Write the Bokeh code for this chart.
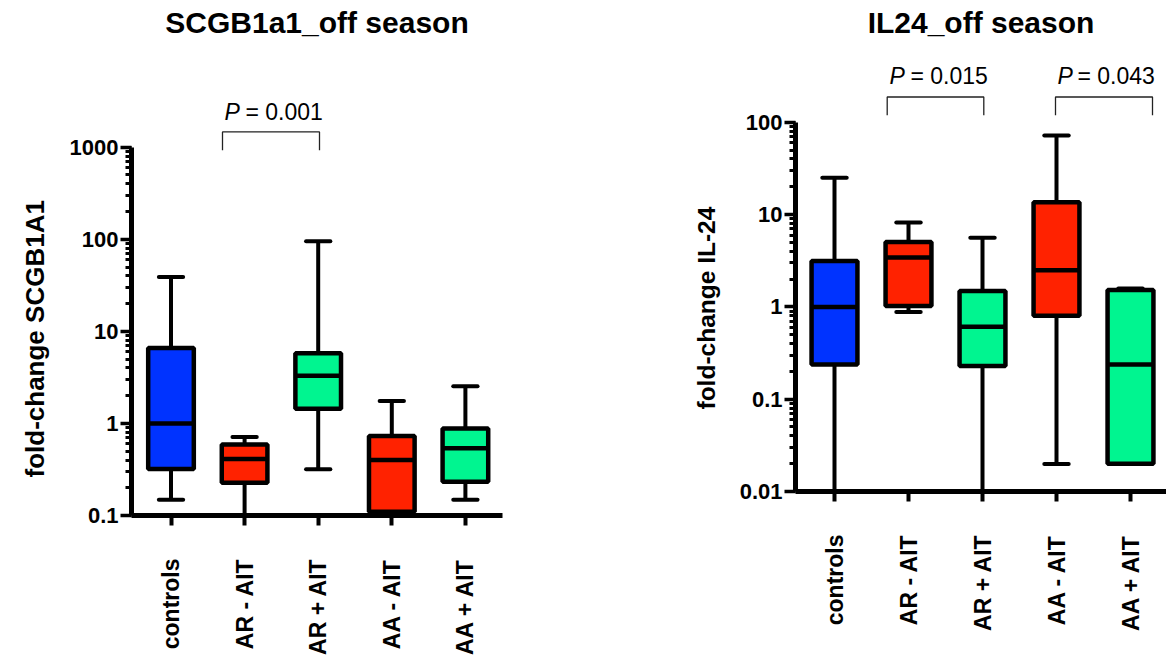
import math
import numpy as np
from bokeh.plotting import figure
from bokeh.models import Range1d, FixedTicker, LogTicker, CustomJSTickFormatter, Title
from bokeh.layouts import row
from bokeh.core.properties import value
from bokeh.embed import file_html
from bokeh.resources import INLINE

# ---------------- data ----------------
categories = ["controls", "AR - AIT", "AR + AIT", "AA - AIT", "AA + AIT"]
box_colors = ["#0033FF", "#FF2200", "#00F590", "#FF2200", "#00F590"]

# SCGB1a1 off season (fold-change SCGB1A1)
scg_min = [0.148, 0.05, 0.317, 0.05, 0.148]
scg_q1 = [0.32, 0.227, 1.44, 0.11, 0.233]
scg_med = [1.0, 0.41, 3.3, 0.40, 0.536]
scg_q3 = [6.6, 0.59, 5.8, 0.73, 0.88]
scg_max = [39.0, 0.71, 95.0, 1.75, 2.54]

# IL24 off season (fold-change IL-24)
il_min = [0.005, 0.88, 0.005, 0.0198, 0.02]
il_q1 = [0.238, 1.02, 0.229, 0.80, 0.02]
il_med = [1.0, 3.42, 0.61, 2.49, 0.238]
il_q3 = [3.14, 5.05, 1.49, 13.6, 1.52]
il_max = [25.0, 8.2, 5.6, 71.8, 1.58]

scg_pvalues = ["= 0.001"]
il_pvalues = ["= 0.015", "= 0.043"]

FONT = "Liberation Sans"
FIG_W = 583
BOTTOM_BORDER = 141


def make_panel(title, ylabel, mins, q1, med, q3, maxs, ytick_lo, ytick_hi,
               offset, frame_left, frame_right, frame_bottom, decade_px,
               x0_px, dx_px, xlab_standoff, ylab_start, ylab_gap, ylab_size,
               brackets, ptexts, pvals):
    x_start = 1 - (x0_px - frame_left) / dx_px
    x_end = x_start + (frame_right - frame_left) / dx_px
    lo = math.log10(ytick_lo)
    y_top = 10 ** (lo + frame_bottom / decade_px)

    def ypx(py):
        return 10 ** (lo + (frame_bottom - py) / decade_px)

    def xpx(px):
        return 1 + (px - x0_px) / dx_px

    p = figure(width=FIG_W, height=frame_bottom + BOTTOM_BORDER, y_axis_type="log",
               x_range=Range1d(x_start, x_end), y_range=Range1d(ytick_lo, y_top),
               output_backend="svg", toolbar_location=None,
               min_border_left=frame_left - offset,
               min_border_right=FIG_W - (frame_right - offset),
               min_border_top=0, min_border_bottom=BOTTOM_BORDER,
               background_fill_color="white", border_fill_color="white")
    p.outline_line_color = None
    p.xgrid.visible = False
    p.ygrid.visible = False

    xs = np.arange(1, len(categories) + 1, dtype=float)
    bw = 0.62
    cw = 0.33

    # whiskers
    p.segment(x0=xs, y0=q3, x1=xs, y1=maxs, line_color="black", line_width=4)
    p.segment(x0=xs, y0=mins, x1=xs, y1=q1, line_color="black", line_width=4)
    p.segment(x0=xs - cw / 2, y0=maxs, x1=xs + cw / 2, y1=maxs,
              line_color="black", line_width=4, line_cap="round")
    p.segment(x0=xs - cw / 2, y0=mins, x1=xs + cw / 2, y1=mins,
              line_color="black", line_width=4, line_cap="round")
    # boxes
    p.vbar(x=xs, width=bw, bottom=q1, top=q3, fill_color=box_colors,
           line_color="black", line_width=4.5)
    # medians
    p.segment(x0=xs - bw / 2, y0=med, x1=xs + bw / 2, y1=med,
              line_color="black", line_width=4.5)

    # title
    p.text(x=[(x_start + x_end) / 2], y=[ypx(22.5)], text=[title],
           text_font=value(FONT), text_font_style="bold", text_font_size="30px",
           text_align="center", text_baseline="middle", text_color="black")

    # significance brackets
    for (bl, br, bt, bb) in brackets:
        p.line(x=[xpx(bl), xpx(bl), xpx(br), xpx(br)],
               y=[ypx(bb), ypx(bt), ypx(bt), ypx(bb)],
               line_color="#222222", line_width=1.3)
    for (pxP, pxEq, mid), pv in zip(ptexts, pvals):
        p.text(x=[xpx(pxP)], y=[ypx(mid)], text=["P"], text_font=value(FONT),
               text_font_style="italic", text_font_size="23px",
               text_align="left", text_baseline="middle", text_color="black")
        p.text(x=[xpx(pxEq)], y=[ypx(mid)], text=[pv], text_font=value(FONT),
               text_font_style="normal", text_font_size="23px",
               text_align="left", text_baseline="middle", text_color="black")

    # y axis
    ya = p.yaxis[0]
    ya.ticker = LogTicker(desired_num_ticks=6, num_minor_ticks=10)
    ya.formatter = CustomJSTickFormatter(code="return String(Number(tick.toPrecision(3)));")
    ya.bounds = (ytick_lo, ytick_hi)
    ya.axis_line_width = 5
    ya.axis_line_color = "black"
    ya.major_tick_line_width = 3.5
    ya.major_tick_out = 11
    ya.major_tick_in = 0
    ya.minor_tick_line_width = 3
    ya.minor_tick_out = 6
    ya.minor_tick_in = 0
    ya.major_label_text_font = FONT
    ya.major_label_text_font_style = "bold"
    ya.major_label_text_font_size = "22px"
    ya.major_label_text_color = "black"
    ya.major_label_standoff = 2
    # blank axis label only used as a spacer between tick labels and the side title
    ya.axis_label = " "
    ya.axis_label_text_font_size = "1px"
    ya.axis_label_standoff = ylab_gap

    # y axis title (side title, positioned along the axis)
    p.add_layout(Title(text=ylabel, align="left",
                       offset=frame_bottom - ylab_start,
                       standoff=0, text_font=FONT,
                       text_font_style="bold", text_font_size=ylab_size,
                       text_color="black"), "left")

    # x axis
    xa = p.xaxis[0]
    xa.ticker = FixedTicker(ticks=list(range(1, len(categories) + 1)))
    xa.major_label_overrides = {i + 1: c for i, c in enumerate(categories)}
    xa.major_label_orientation = math.pi / 2
    xa.axis_line_width = 5
    xa.axis_line_color = "black"
    xa.major_tick_line_width = 4
    xa.major_tick_out = 10
    xa.major_tick_in = 0
    xa.minor_tick_line_color = None
    xa.major_label_text_font = FONT
    xa.major_label_text_font_style = "bold"
    xa.major_label_text_font_size = "23px"
    xa.major_label_text_color = "black"
    xa.major_label_standoff = xlab_standoff
    return p


p1 = make_panel("SCGB1a1_off season", "fold-change SCGB1A1",
                scg_min, scg_q1, scg_med, scg_q3, scg_max, 0.1, 1000,
                offset=0, frame_left=131, frame_right=502, frame_bottom=516,
                decade_px=92.25, x0_px=170.5, dx_px=73.6, xlab_standoff=33,
                ylab_start=478, ylab_gap=13, ylab_size="26px",
                brackets=[(222, 319, 131.7, 150)],
                ptexts=[(224, 245, 111.3)], pvals=scg_pvalues)

p2 = make_panel("IL24_off season", "fold-change IL-24",
                il_min, il_q1, il_med, il_q3, il_max, 0.01, 100,
                offset=583, frame_left=795, frame_right=1166, frame_bottom=492,
                decade_px=92.5, x0_px=834, dx_px=74, xlab_standoff=33,
                ylab_start=410, ylab_gap=13, ylab_size="24.5px",
                brackets=[(886.7, 983.3, 96.7, 115), (1055, 1152, 96.7, 115)],
                ptexts=[(889, 910, 75.3), (1057, 1077, 75.3)], pvals=il_pvalues)

layout = row(p1, p2, spacing=0)
open("out.html", "w").write(file_html(layout, INLINE))
